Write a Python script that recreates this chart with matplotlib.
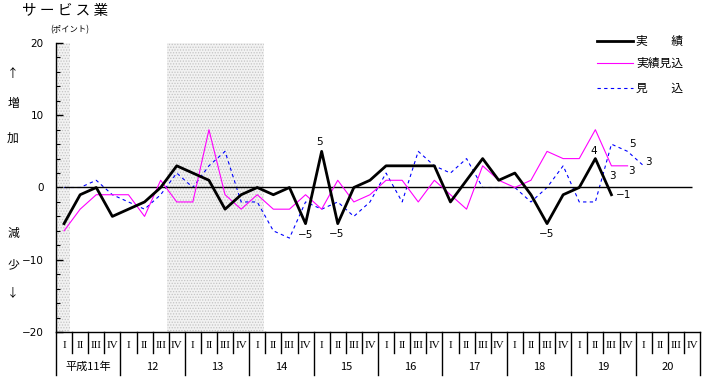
import numpy as np
import matplotlib
matplotlib.use('Agg')
import matplotlib.pyplot as plt
from matplotlib.lines import Line2D
from matplotlib.ticker import MultipleLocator

# data
years = ['平成11年', '12', '13', '14', '15', '16', '17', '18', '19', '20']
quarters = ['I', 'II', 'III', 'IV']
jisseki = [-5, -1, 0, -4, -3, -2, 0, 3, 2, 1, -3, -1, 0, -1, 0, -5, 5, -5, 0, 1,
           3, 3, 3, 3, -2, 1, 4, 1, 2, -1, -5, -1, 0, 4, -1]
jisseki_mikomi = [-6, -3, -1, -1, -1, -4, 1, -2, -2, 8, -1, -3, -1, -3, -3, -1, -3, 1,
                  -2, -1, 1, 1, -2, 1, -1, -3, 3, 1, 0, 1, 5, 4, 4, 8, 3, 3]
mikomi = [0, 0, 1, -1, -2, -3, -1, 2, 0, 3, 5, -2, -2, -6, -7, -2, -3, -2, -4, -2,
          2, -2, 5, 3, 2, 4, 0, 0, 0, -2, 0, 3, -2, -2, 6, 5, 3]
shade_spans = [(0, 0.87), (6.9, 12.9)]   # 景気後退期 (quarters)

# labels: (series, index, text, dx px, dy px)
point_labels = [
    ('j', 15, '−5', 0, -11), ('j', 16, '5', -2, 9), ('j', 17, '−5', -1, -10),
    ('j', 30, '−5', 0, -10), ('j', 33, '4', -2, 8), ('j', 34, '−1', 12, 0),
    ('m', 34, '3', 1, -10), ('m', 35, '3', 4, -5),
    ('b', 35, '5', 5, 7), ('b', 36, '3', 5, 4),
]

jp = ['Noto Sans CJK JP', 'DejaVu Sans']
W, H = 708, 378
plt.rcParams['hatch.linewidth'] = 0.6

fig = plt.figure(figsize=(W / 100, H / 100), dpi=100)
ax = fig.add_axes([56 / W, 1 - 332 / H, 644 / W, 289 / H])

# dotted shading like the original
for a, b in shade_spans:
    ax.axvspan(a, b, facecolor='#f2f2f2', edgecolor='#c4c4c4', hatch='......',
               lw=0, zorder=0)

nq = len(years) * len(quarters)
ax.hlines(0, 0.5, nq - 0.5, color='black', lw=1.0, zorder=3)

x_j = np.arange(len(jisseki)) + 0.5
x_m = np.arange(len(jisseki_mikomi)) + 0.5
x_b = np.arange(len(mikomi)) + 0.5
ax.plot(x_b, mikomi, color='#0000ff', lw=0.8, dashes=(3, 3), zorder=2)
ax.plot(x_m, jisseki_mikomi, color='#ff00ff', lw=0.8, zorder=4)
ax.plot(x_j, jisseki, color='black', lw=2.0, zorder=5)

series = {'j': (x_j, jisseki), 'm': (x_m, jisseki_mikomi), 'b': (x_b, mikomi)}
for s, i, t, dx, dy in point_labels:
    xs, ys = series[s]
    ax.annotate(t, (xs[i], ys[i]), xytext=(dx, dy), textcoords='offset pixels',
                ha='center', va='center', fontsize=7.5, zorder=6)

ax.set_xlim(0, nq)
ax.set_ylim(-20, 20)
ax.set_xticks([])
ax.set_yticks([-20, -10, 0, 10, 20])
ax.yaxis.set_minor_locator(MultipleLocator(2))
ax.tick_params(axis='y', which='major', direction='in', length=5, width=1, pad=9,
               labelsize=7.5)
ax.tick_params(axis='y', which='minor', direction='in', length=3, width=0.8)
for sp in ['top', 'right']:
    ax.spines[sp].set_visible(False)
ax.spines['left'].set_linewidth(1.0)
ax.spines['bottom'].set_linewidth(1.0)

# quarter / year table under the plot
tx = fig.add_axes([56 / W, 0, 644 / W, 46 / H])
tx.set_xlim(0, nq)
tx.set_ylim(0, 46)
tx.axis('off')
for k in range(nq + 1):
    y0 = 3 if k % 4 == 0 else 25
    tx.plot([k, k], [46, y0], color='black', lw=1.0, clip_on=False)
for k in range(nq):
    tx.text(k + 0.5, 33, quarters[k % 4], ha='center', va='center', fontsize=8,
            family='Liberation Serif')
for n, yl in enumerate(years):
    tx.text(n * 4 + 2, 11, yl, ha='center', va='center', fontsize=8, family=jp)

# titles and side labels
fig.text(22 / W, 1 - 11 / H, 'サ ー ビ ス 業', ha='left', va='center', fontsize=10.5,
         family=jp)
fig.text(50 / W, 1 - 30 / H, '(ポイント)', ha='left', va='center', fontsize=6, family=jp)
for t, yy in [('↑', 73), ('増', 104), ('加', 138), ('減', 233), ('少', 265), ('↓', 293)]:
    fig.text(13 / W, 1 - yy / H, t, ha='center', va='center', fontsize=8.5, family=jp)

# legend
leg = [('実\u3000\u3000績', 41, dict(color='black', lw=2.0)),
       ('実績見込', 63, dict(color='#ff00ff', lw=0.8)),
       ('見\u3000\u3000込', 88, dict(color='#0000ff', lw=0.8, dashes=(3, 3)))]
for t, yy, kw in leg:
    fig.add_artist(Line2D([597 / W, 633 / W], [1 - yy / H, 1 - yy / H], **kw))
    fig.text(636 / W, 1 - yy / H, t, ha='left', va='center', fontsize=8.5, family=jp)

fig.savefig('out.png', dpi=100)
